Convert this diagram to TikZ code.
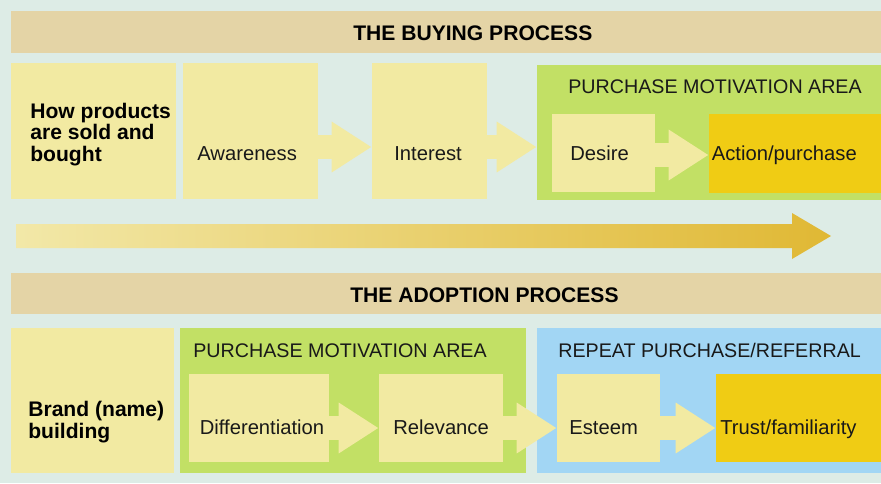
\documentclass[tikz,border=0pt]{standalone}
\usepackage{fontspec}
\setmainfont{Liberation Sans}
\usetikzlibrary{arrows.meta,fit,calc}

\definecolor{bgmint}{RGB}{221,236,230}
\definecolor{bannertan}{RGB}{228,212,166}
\definecolor{paleyellow}{RGB}{242,234,162}
\definecolor{areagreen}{RGB}{194,224,101}
\definecolor{areablue}{RGB}{162,214,244}
\definecolor{gold}{RGB}{240,204,20}
\definecolor{flowleft}{RGB}{242,232,168}
\definecolor{flowright}{RGB}{224,184,52}

\tikzset{
  box/.style={fill=paleyellow, inner sep=0pt},
  area/.style={inner sep=0pt},
  txt/.style={anchor=base west, inner sep=0pt, text=black!90, font=\fontsize{11.5}{13}\selectfont},
  areatxt/.style={txt, font=\fontsize{11.2}{13}\selectfont},
  head/.style={anchor=base west, inner sep=0pt, font=\bfseries\fontsize{12}{12}\selectfont},
  side/.style={anchor=base west, inner sep=0pt, align=left, font=\bfseries\fontsize{12}{12.3}\selectfont},
  flow/.style={draw=paleyellow, line width=0.48cm, -{Triangle[width=0.96cm,length=0.8cm]}},
}

\begin{document}
\begin{tikzpicture}[x=0.02cm, y=-0.02cm]
% backdrop
\fill[bgmint] (0,0) rectangle (881,483);
\useasboundingbox (0,0) rectangle (881,483);

% Buying process
\node[fill=bannertan, inner sep=0pt, fit={(11,11) (881,53)}] (buyban) {};
\node[head] (buyhead) at (353,41) {THE BUYING PROCESS};
\node[box, fit={(11,63) (176,199)}] (how) {};
\node[side] (howtxt) at (30,161.5) {How products\\are sold and\\bought};
\node[box, fit={(183,63) (318,199)}] (aw) {};
\node[txt] (awtxt) at (197,160.5) {Awareness};
\node[box, fit={(372,63) (487,199)}] (in) {};
\node[txt] (intxt) at (394,160.5) {Interest};
\node[area, fill=areagreen, fit={(537,65) (881,200)}] (buyarea) {};
\node[areatxt] (buyareatxt) at (568,93) {PURCHASE MOTIVATION AREA};
\node[box, fit={(552,114) (655,192)}] (de) {};
\node[txt] (detxt) at (570,160) {Desire};
\node[box, fill=gold, fit={(709,114) (881,193)}] (act) {};
\node[txt] (acttxt) at (711.5,160) {Action/purchase};

\coordinate (lane1) at (0,147);
\coordinate (lane1b) at (0,155);
\draw[flow] (aw.east |- lane1) -- (in.west |- lane1);
\draw[flow] (in.east |- lane1) -- (buyarea.west |- lane1);
\draw[flow] (de.east |- lane1b) -- (act.west |- lane1b);

% Big arrow
\coordinate (flowstart) at (16,236);
\coordinate (flowtip) at (831,236);
\shade[left color=flowleft, right color=flowright]
  ($(flowstart)+(0,-12)$) -- ($(flowtip)+(-39,-12)$) -- ($(flowtip)+(-39,-23)$)
  -- (flowtip) -- ($(flowtip)+(-39,23)$) -- ($(flowtip)+(-39,12)$)
  -- ($(flowstart)+(0,12)$) -- cycle;

% Adoption process
\node[fill=bannertan, inner sep=0pt, fit={(11,273) (881,314)}] (adoban) {};
\node[head] (adohead) at (350,302.5) {THE ADOPTION PROCESS};
\node[box, fit={(11,328) (174,473)}] (brand) {};
\node[side] (brandtxt) at (28,438.3) {Brand (name)\\building};
\node[area, fill=areagreen, fit={(180,328) (526,473)}] (adoarea) {};
\node[areatxt] (adoareatxt) at (193,357.5) {PURCHASE MOTIVATION AREA};
\node[area, fill=areablue, fit={(537,328) (881,473)}] (reparea) {};
\node[areatxt] (repareatxt) at (558,357.5) {REPEAT PURCHASE/REFERRAL};
\node[box, fit={(189,374) (329,462)}] (dif) {};
\node[txt] (diftxt) at (199.5,434) {Differentiation};
\node[box, fit={(379,374) (503,462)}] (rel) {};
\node[txt] (reltxt) at (393,434) {Relevance};
\node[box, fit={(557,374) (660,462)}] (est) {};
\node[txt] (esttxt) at (569,434) {Esteem};
\node[box, fill=gold, fit={(716,374) (881,462)}] (trust) {};
\node[txt] (trusttxt) at (720,434) {Trust/familiarity};

\coordinate (lane2) at (0,428);
\draw[flow] (dif.east |- lane2) -- (rel.west |- lane2);
\draw[flow] (rel.east |- lane2) -- (est.west |- lane2);
\draw[flow] (est.east |- lane2) -- (trust.west |- lane2);
\end{tikzpicture}
\end{document}
